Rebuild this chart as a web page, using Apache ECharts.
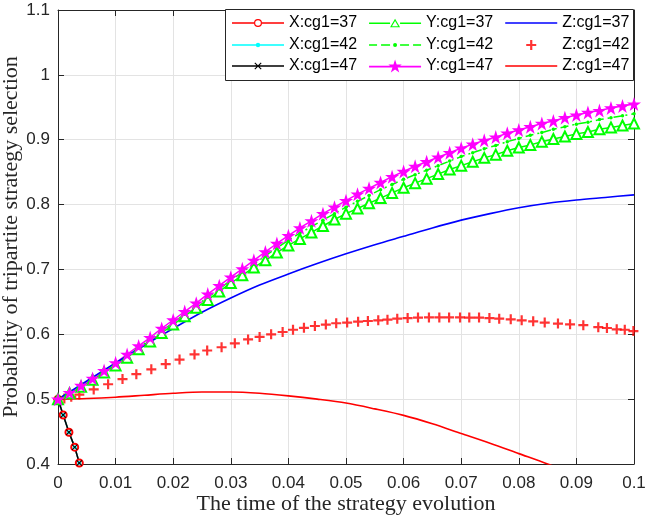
<!DOCTYPE html>
<html>
<head>
<meta charset="utf-8">
<script src="https://cdn.jsdelivr.net/npm/echarts@6/dist/echarts.min.js"></script>
<style>html,body{margin:0;padding:0;background:#fff}#c{width:646px;height:516px}</style>
</head>
<body>
<div id="c"></div>
<script>
// ---- data ----
const xTicks = [0, 0.01, 0.02, 0.03, 0.04, 0.05, 0.06, 0.07, 0.08, 0.09, 0.1];
const yTicks = [0.4, 0.5, 0.6, 0.7, 0.8, 0.9, 1, 1.1];

const tX  = [0, 0.0009, 0.0019, 0.0029, 0.0037, 0.0046];
const x37 = [0.5, 0.4755, 0.449, 0.426, 0.4015, 0.378];
const x42 = [0.5, 0.4755, 0.449, 0.426, 0.4015, 0.378];
const x47 = [0.5, 0.4755, 0.449, 0.426, 0.4015, 0.378];

const tY = [0,0.002,0.004,0.006,0.008,0.01,0.012,0.014,0.016,0.018,0.02,0.022,0.024,0.026,0.028,0.03,0.032,0.034,0.036,0.038,0.04,0.042,0.044,0.046,0.048,0.05,0.052,0.054,0.056,0.058,0.06,0.062,0.064,0.066,0.068,0.07,0.072,0.074,0.076,0.078,0.08,0.082,0.084,0.086,0.088,0.09,0.092,0.094,0.096,0.098,0.1];
const y37 = [0.500,0.509,0.519,0.530,0.541,0.552,0.564,0.577,0.589,0.602,0.615,0.628,0.641,0.653,0.666,0.679,0.691,0.703,0.714,0.726,0.737,0.747,0.757,0.767,0.777,0.786,0.794,0.802,0.810,0.818,0.826,0.833,0.840,0.847,0.854,0.860,0.866,0.872,0.877,0.883,0.888,0.892,0.897,0.901,0.905,0.909,0.912,0.916,0.919,0.922,0.925];
const y42 = [0.500,0.510,0.520,0.531,0.542,0.554,0.567,0.579,0.592,0.605,0.618,0.631,0.644,0.657,0.670,0.683,0.696,0.708,0.721,0.733,0.745,0.756,0.766,0.776,0.786,0.796,0.805,0.814,0.823,0.831,0.839,0.846,0.853,0.860,0.867,0.874,0.880,0.886,0.891,0.897,0.902,0.907,0.911,0.916,0.920,0.924,0.927,0.931,0.934,0.937,0.940];
const y47 = [0.500,0.510,0.521,0.532,0.544,0.556,0.569,0.582,0.595,0.609,0.622,0.635,0.648,0.662,0.675,0.688,0.701,0.714,0.727,0.740,0.752,0.764,0.775,0.786,0.796,0.806,0.816,0.825,0.834,0.843,0.851,0.859,0.866,0.873,0.880,0.887,0.893,0.899,0.904,0.910,0.915,0.920,0.925,0.929,0.934,0.938,0.942,0.945,0.949,0.952,0.955];

const tZ  = [0,0.005,0.01,0.015,0.02,0.025,0.03,0.035,0.04,0.045,0.05,0.055,0.06,0.065,0.07,0.075,0.08,0.085,0.09,0.095,0.1];
const z37 = [0.500,0.528,0.556,0.583,0.609,0.634,0.656,0.676,0.693,0.709,0.724,0.738,0.751,0.764,0.776,0.786,0.795,0.802,0.807,0.811,0.815];
const tZ47 = [0,0.005,0.01,0.015,0.02,0.025,0.03,0.035,0.04,0.045,0.05,0.055,0.06,0.065,0.07,0.075,0.08,0.085,0.09];
const z47 = [0.500,0.501,0.503,0.506,0.509,0.511,0.511,0.509,0.505,0.500,0.494,0.485,0.475,0.462,0.447,0.432,0.416,0.400,0.383];

const tZ42 = [0,0.0011,0.0023,0.0037,0.0062,0.0087,0.0112,0.0136,0.0162,0.0187,0.0211,0.0237,0.0259,0.0284,0.0307,0.0330,0.0350,0.0370,0.0390,0.0408,0.0427,0.0446,0.0465,0.0483,0.0502,0.0521,0.0538,0.0556,0.0572,0.0589,0.0607,0.0625,0.0644,0.0662,0.0679,0.0698,0.0714,0.0731,0.0749,0.0766,0.0786,0.0805,0.0825,0.0845,0.0868,0.0889,0.0912,0.0938,0.0953,0.0970,0.0984,0.0999];
const z42  = [0.500,0.501,0.5035,0.507,0.515,0.523,0.531,0.5385,0.546,0.554,0.561,0.569,0.575,0.580,0.586,0.592,0.596,0.600,0.6035,0.607,0.610,0.6128,0.615,0.617,0.618,0.6195,0.6205,0.6215,0.6226,0.624,0.625,0.6257,0.626,0.626,0.626,0.626,0.6257,0.6257,0.625,0.624,0.623,0.6215,0.620,0.618,0.6165,0.6154,0.614,0.611,0.6097,0.6077,0.607,0.605];

const names = ['X:cg1=37','X:cg1=42','X:cg1=47','Y:cg1=37','Y:cg1=42','Y:cg1=47','Z:cg1=37','Z:cg1=42','Z:cg1=47'];

// ---- styling ----
const RED='#ff0000', CYAN='#00ffff', BLACK='#000000', GREEN='#00ff00', MAG='#ff00ff', BLUE='#0000ff';
const AX='#262626', GRIDC='#e3e3e3';
const STAR='path://M10,0L12.25,6.91L19.51,6.91L13.63,11.18L15.88,18.09L10,13.82L4.12,18.09L6.37,11.18L0.49,6.91L7.75,6.91Z';
const XMARK='path://M1.2,0L5,3.8L8.8,0L10,1.2L6.2,5L10,8.8L8.8,10L5,6.2L1.2,10L0,8.8L3.8,5L0,1.2Z';
const PLUS='path://M3.9,0H6.1V3.9H10V6.1H6.1V10H3.9V6.1H0V3.9H3.9Z';

// legend icons, all 52 px wide, drawn at native size
const LINE_L='M0,6.2H52V7.8H0Z';
const edges='M0,7L0.01,7L0,7.01Z M52,7L51.99,7L52,7.01Z';
const ICON = {
  'X:cg1=37': 'path://M0,6.2H22V7.8H0Z M30,6.2H52V7.8H30Z M30,7A4,4 0 1,1 22,7A4,4 0 1,1 30,7Z M28.8,7A2.8,2.8 0 1,0 23.2,7A2.8,2.8 0 1,0 28.8,7Z',
  'X:cg1=42': 'path://'+LINE_L+' M28.2,7A2.2,2.2 0 1,1 23.8,7A2.2,2.2 0 1,1 28.2,7Z',
  'X:cg1=47': 'path://'+LINE_L+' M23.2,3.4L26,6.2L28.8,3.4L29.6,4.2L26.8,7L29.6,9.8L28.8,10.6L26,7.8L23.2,10.6L22.4,9.8L25.2,7L22.4,4.2Z',
  'Y:cg1=37': 'path://M0,6.2H21V7.8H0Z M31,6.2H52V7.8H31Z M21,11L26,2.4L31,11Z M22.9,9.9L29.1,9.9L26,4.6Z',
  'Y:cg1=42': 'path://M0,6.2H8V7.8H0Z M12,6.2H21V7.8H12Z M31,6.2H40V7.8H31Z M44,6.2H52V7.8H44Z M28,7A2,2 0 1,1 24,7A2,2 0 1,1 28,7Z',
  'Y:cg1=47': 'path://'+LINE_L+' M26,0L27.6,4.9L32.7,4.9L28.6,7.9L30.2,12.8L26,9.8L21.8,12.8L23.4,7.9L19.3,4.9L24.4,4.9Z',
  'Z:cg1=37': 'path://'+LINE_L,
  'Z:cg1=42': 'path://'+edges+' M24.9,2H27.1V5.9H31V8.1H27.1V12H24.9V8.1H21V5.9H24.9Z',
  'Z:cg1=47': 'path://'+LINE_L
};
const COL = {'X:cg1=37':RED,'X:cg1=42':CYAN,'X:cg1=47':BLACK,'Y:cg1=37':GREEN,'Y:cg1=42':GREEN,'Y:cg1=47':MAG,'Z:cg1=37':BLUE,'Z:cg1=42':RED,'Z:cg1=47':RED};

function pairs(t, v){ return t.map((x,i)=>[x, v[i]]); }
function legendRow(list, top){
  return {
    left: 232, top: top, orient: 'horizontal', padding: 0,
    itemWidth: 52, itemHeight: 14, itemGap: 12, selectedMode: false,
    textStyle: {fontFamily: 'Liberation Sans, Arial, sans-serif', fontSize: 16, color: '#000'},
    data: list.map(n => ({name: n, icon: ICON[n], itemStyle: {color: COL[n], borderWidth: 0}}))
  };
}

const labelFont = {fontFamily: 'Liberation Sans, Arial, sans-serif', fontSize: 17, color: AX};
const nameFont = {fontFamily: 'Liberation Serif, Times New Roman, serif', fontSize: 22, color: AX};

const option = {
  animation: false,
  backgroundColor: '#fff',
  grid: {left: 58, right: 12, top: 10, bottom: 52, containLabel: false, outerBoundsMode: 'none'},
  xAxis: [{
    type: 'value', min: 0, max: 0.1, interval: 0.01, position: 'bottom',
    name: 'The time of the strategy evolution', nameLocation: 'middle', nameGap: 29, nameMoveOverlap: false, nameTextStyle: nameFont,
    axisLine: {show: true, onZero: false, lineStyle: {color: AX, width: 1}},
    axisTick: {show: true, inside: true, length: 6, lineStyle: {color: AX}},
    axisLabel: Object.assign({margin: 11, formatter: v => String(+v.toFixed(2))}, labelFont),
    splitLine: {show: true, lineStyle: {color: GRIDC, width: 1}}
  }, {
    type: 'value', min: 0, max: 0.1, interval: 0.01, position: 'top',
    axisLine: {show: true, onZero: false, lineStyle: {color: AX, width: 1}},
    axisTick: {show: true, inside: true, length: 6, lineStyle: {color: AX}},
    axisLabel: {show: false}, splitLine: {show: false}
  }],
  yAxis: [{
    type: 'value', min: 0.4, max: 1.1, interval: 0.1, position: 'left',
    name: 'Probability of tripartite strategy selection', nameLocation: 'middle', nameGap: 36, nameMoveOverlap: false, nameTextStyle: nameFont,
    axisLine: {show: true, onZero: false, lineStyle: {color: AX, width: 1}},
    axisTick: {show: true, inside: true, length: 6, lineStyle: {color: AX}},
    axisLabel: Object.assign({margin: 8, formatter: v => String(+v.toFixed(1))}, labelFont),
    splitLine: {show: true, lineStyle: {color: GRIDC, width: 1}}
  }, {
    type: 'value', min: 0.4, max: 1.1, interval: 0.1, position: 'right',
    axisLine: {show: true, onZero: false, lineStyle: {color: AX, width: 1}},
    axisTick: {show: true, inside: true, length: 6, lineStyle: {color: AX}},
    axisLabel: {show: false}, splitLine: {show: false}
  }],
  legend: [
    legendRow(['X:cg1=37','Y:cg1=37','Z:cg1=37'], 15),
    legendRow(['X:cg1=42','Y:cg1=42','Z:cg1=42'], 37),
    legendRow(['X:cg1=47','Y:cg1=47','Z:cg1=47'], 58)
  ],
  graphic: [{
    type: 'rect', z: 3, shape: {x: 225.5, y: 9.5, width: 408, height: 71},
    style: {fill: '#fff', stroke: AX, lineWidth: 1}
  }],
  series: [
    {name: names[0], type: 'line', data: pairs(tX, x37), symbol: 'emptyCircle', symbolSize: 7,
     itemStyle: {color: RED, borderWidth: 1.2}, lineStyle: {color: RED, width: 1.5}},
    {name: names[1], type: 'line', data: pairs(tX, x42), symbol: 'circle', symbolSize: 4,
     itemStyle: {color: CYAN}, lineStyle: {color: CYAN, width: 1.5}},
    {name: names[2], type: 'line', data: pairs(tX, x47), symbol: XMARK, symbolSize: 6,
     itemStyle: {color: BLACK}, lineStyle: {color: BLACK, width: 1.5}},
    {name: names[3], type: 'line', data: pairs(tY, y37), symbol: 'emptyTriangle', symbolSize: 10,
     itemStyle: {color: GREEN, borderWidth: 1.3}, lineStyle: {color: GREEN, width: 1.5}},
    {name: names[4], type: 'line', data: pairs(tY, y42), symbol: 'circle', symbolSize: 3.5,
     itemStyle: {color: GREEN}, lineStyle: {color: GREEN, width: 1.5, type: [8, 4, 2, 4]}},
    {name: names[5], type: 'line', data: pairs(tY, y47), symbol: STAR, symbolSize: 14,
     itemStyle: {color: MAG}, lineStyle: {color: MAG, width: 1.5}},
    {name: names[6], type: 'line', data: pairs(tZ, z37), symbol: 'none', smooth: 0.3,
     itemStyle: {color: BLUE}, lineStyle: {color: BLUE, width: 1.6}},
    {name: names[7], type: 'scatter', data: pairs(tZ42, z42), symbol: PLUS, symbolSize: 10,
     itemStyle: {color: RED}},
    {name: names[8], type: 'line', data: pairs(tZ47, z47), symbol: 'none', smooth: 0.3,
     itemStyle: {color: RED}, lineStyle: {color: RED, width: 1.6}}
  ]
};

const chart = echarts.init(document.getElementById('c'), null, {renderer: 'canvas'});
chart.setOption(option);
</script>
</body>
</html>
